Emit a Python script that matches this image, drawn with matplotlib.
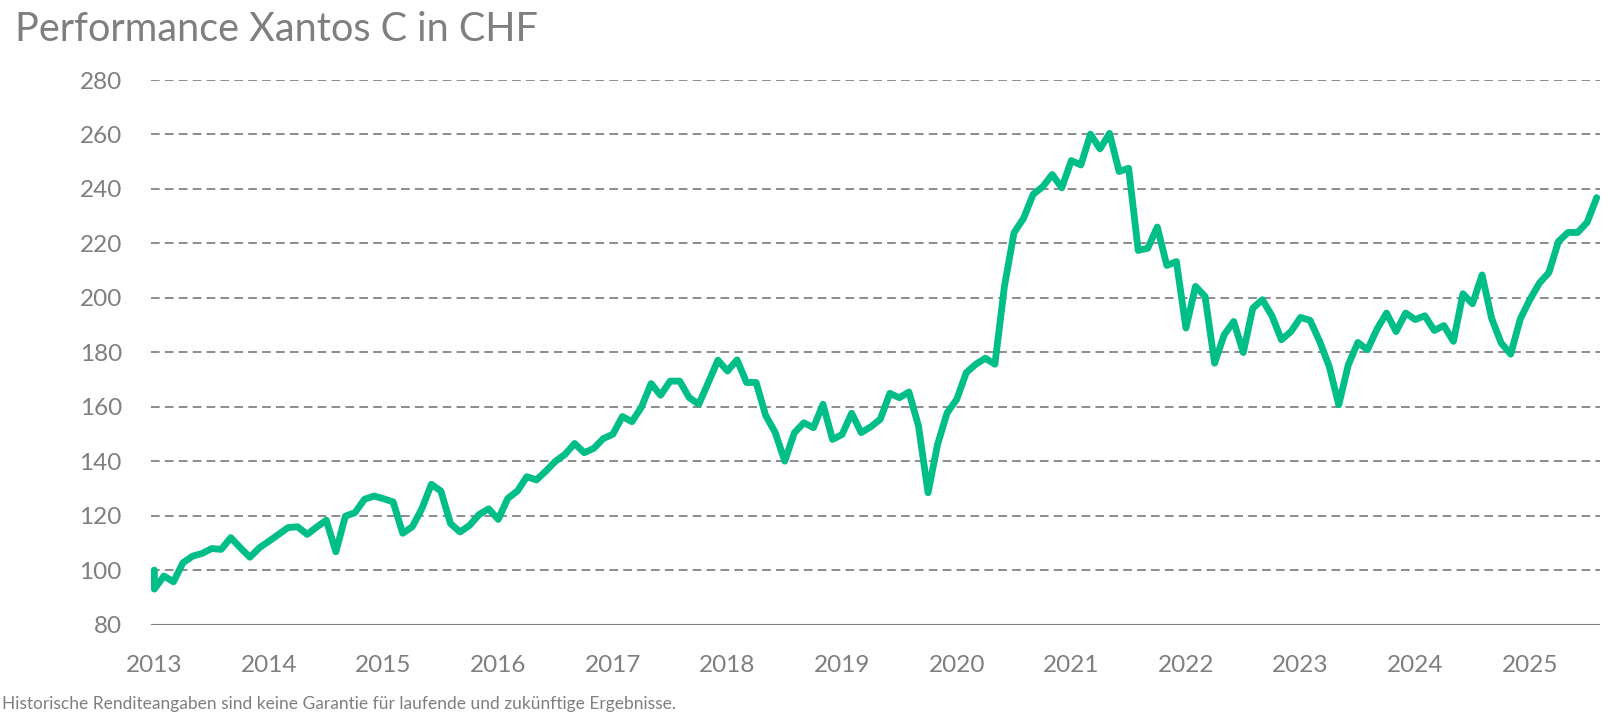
import matplotlib
matplotlib.use("Agg")
import matplotlib.pyplot as plt

# monthly values, Jan 2013 .. Aug 2025 (start value 100 drawn at the first month)
start_value = 100
values = [
    93.0, 97.8, 95.7, 102.7, 105.1, 106.1, 107.9, 107.6, 111.9, 108.2, 104.7, 108.2,
    110.6, 113.1, 115.6, 115.9, 113.1, 115.8, 118.3, 106.7, 119.8, 121.1, 126.0, 127.2,
    126.2, 125.0, 113.5, 115.9, 122.5, 131.5, 129.0, 117.1, 114.0, 116.4, 120.4, 122.5,
    118.6, 126.3, 129.0, 134.3, 133.1, 136.4, 140.0, 142.5, 146.5, 143.1, 144.7, 148.3,
    149.9, 156.4, 154.5, 159.9, 168.5, 164.2, 169.4, 169.4, 163.3, 160.9, 168.9, 177.1,
    173.1, 177.2, 168.9, 168.9, 156.8, 150.5, 140.0, 150.4, 154.1, 152.3, 160.9, 148.0,
    149.8, 157.6, 150.5, 152.6, 155.4, 164.9, 163.3, 165.4, 152.9, 128.4, 146.2, 157.8,
    162.7, 172.5, 175.6, 177.8, 175.6, 204.3, 223.9, 229.2, 238.0, 240.8, 245.3, 240.4,
    250.4, 248.8, 260.1, 254.7, 260.4, 246.4, 247.6, 217.4, 218.2, 226.0, 211.9, 213.3,
    188.9, 204.2, 200.5, 176.0, 186.4, 191.3, 179.9, 196.2, 199.3, 193.4, 184.6, 187.6,
    192.8, 191.7, 184.0, 174.8, 160.7, 175.4, 183.6, 180.9, 188.5, 194.4, 187.6, 194.4,
    192.0, 193.4, 188.0, 189.8, 184.0, 201.5, 197.8, 208.4, 192.5, 183.4, 179.3, 192.2,
    199.3, 205.4, 209.3, 220.7, 224.0, 224.0, 227.7, 236.8,
]
years = [2013, 2014, 2015, 2016, 2017, 2018, 2019, 2020, 2021, 2022, 2023, 2024, 2025]
y_ticks = [80, 100, 120, 140, 160, 180, 200, 220, 240, 260, 280]

title = "Performance Xantos C in CHF"
footer = "Historische Renditeangaben sind keine Garantie für laufende und zukünftige Ergebnisse."

plt.rcParams["font.family"] = ["Lato", "DejaVu Sans"]

GREEN = "#00BE88"
GREY = "#7F7F7F"
GRID = "#7E7E7E"

fig = plt.figure(figsize=(16.1, 7.17), dpi=100)
ax = fig.add_axes([0.0938, 0.129, 0.9, 0.7594])

x = [0] + list(range(len(values)))
y = [start_value] + values
ax.plot(x, y, color=GREEN, lw=4.9, solid_joinstyle="round", solid_capstyle="round", zorder=3)

ax.set_xlim(-0.35, len(values) - 1 + 0.35)
ax.set_ylim(80, 280)
ax.set_yticks(y_ticks)
ax.set_xticks([12 * i for i in range(len(years))])
ax.set_xticklabels([str(yr) for yr in years])

for v in y_ticks[1:]:
    ax.axhline(v, color=GRID, lw=1.25, dashes=(5.0, 3.0), zorder=1)
ax.axhline(80, color=GRID, lw=1.5, zorder=2)

for s in ax.spines.values():
    s.set_visible(False)
ax.tick_params(axis="both", length=0, colors=GREY, labelsize=17.5)
ax.tick_params(axis="y", pad=21)
ax.tick_params(axis="x", pad=22)

fig.text(0.0093, 0.943, title, color=GREY, fontsize=28.5, va="baseline", ha="left")
fig.text(0.001, 0.011, footer, color=GREY, fontsize=12.5, va="baseline", ha="left")

fig.savefig("out.png", dpi=100)
